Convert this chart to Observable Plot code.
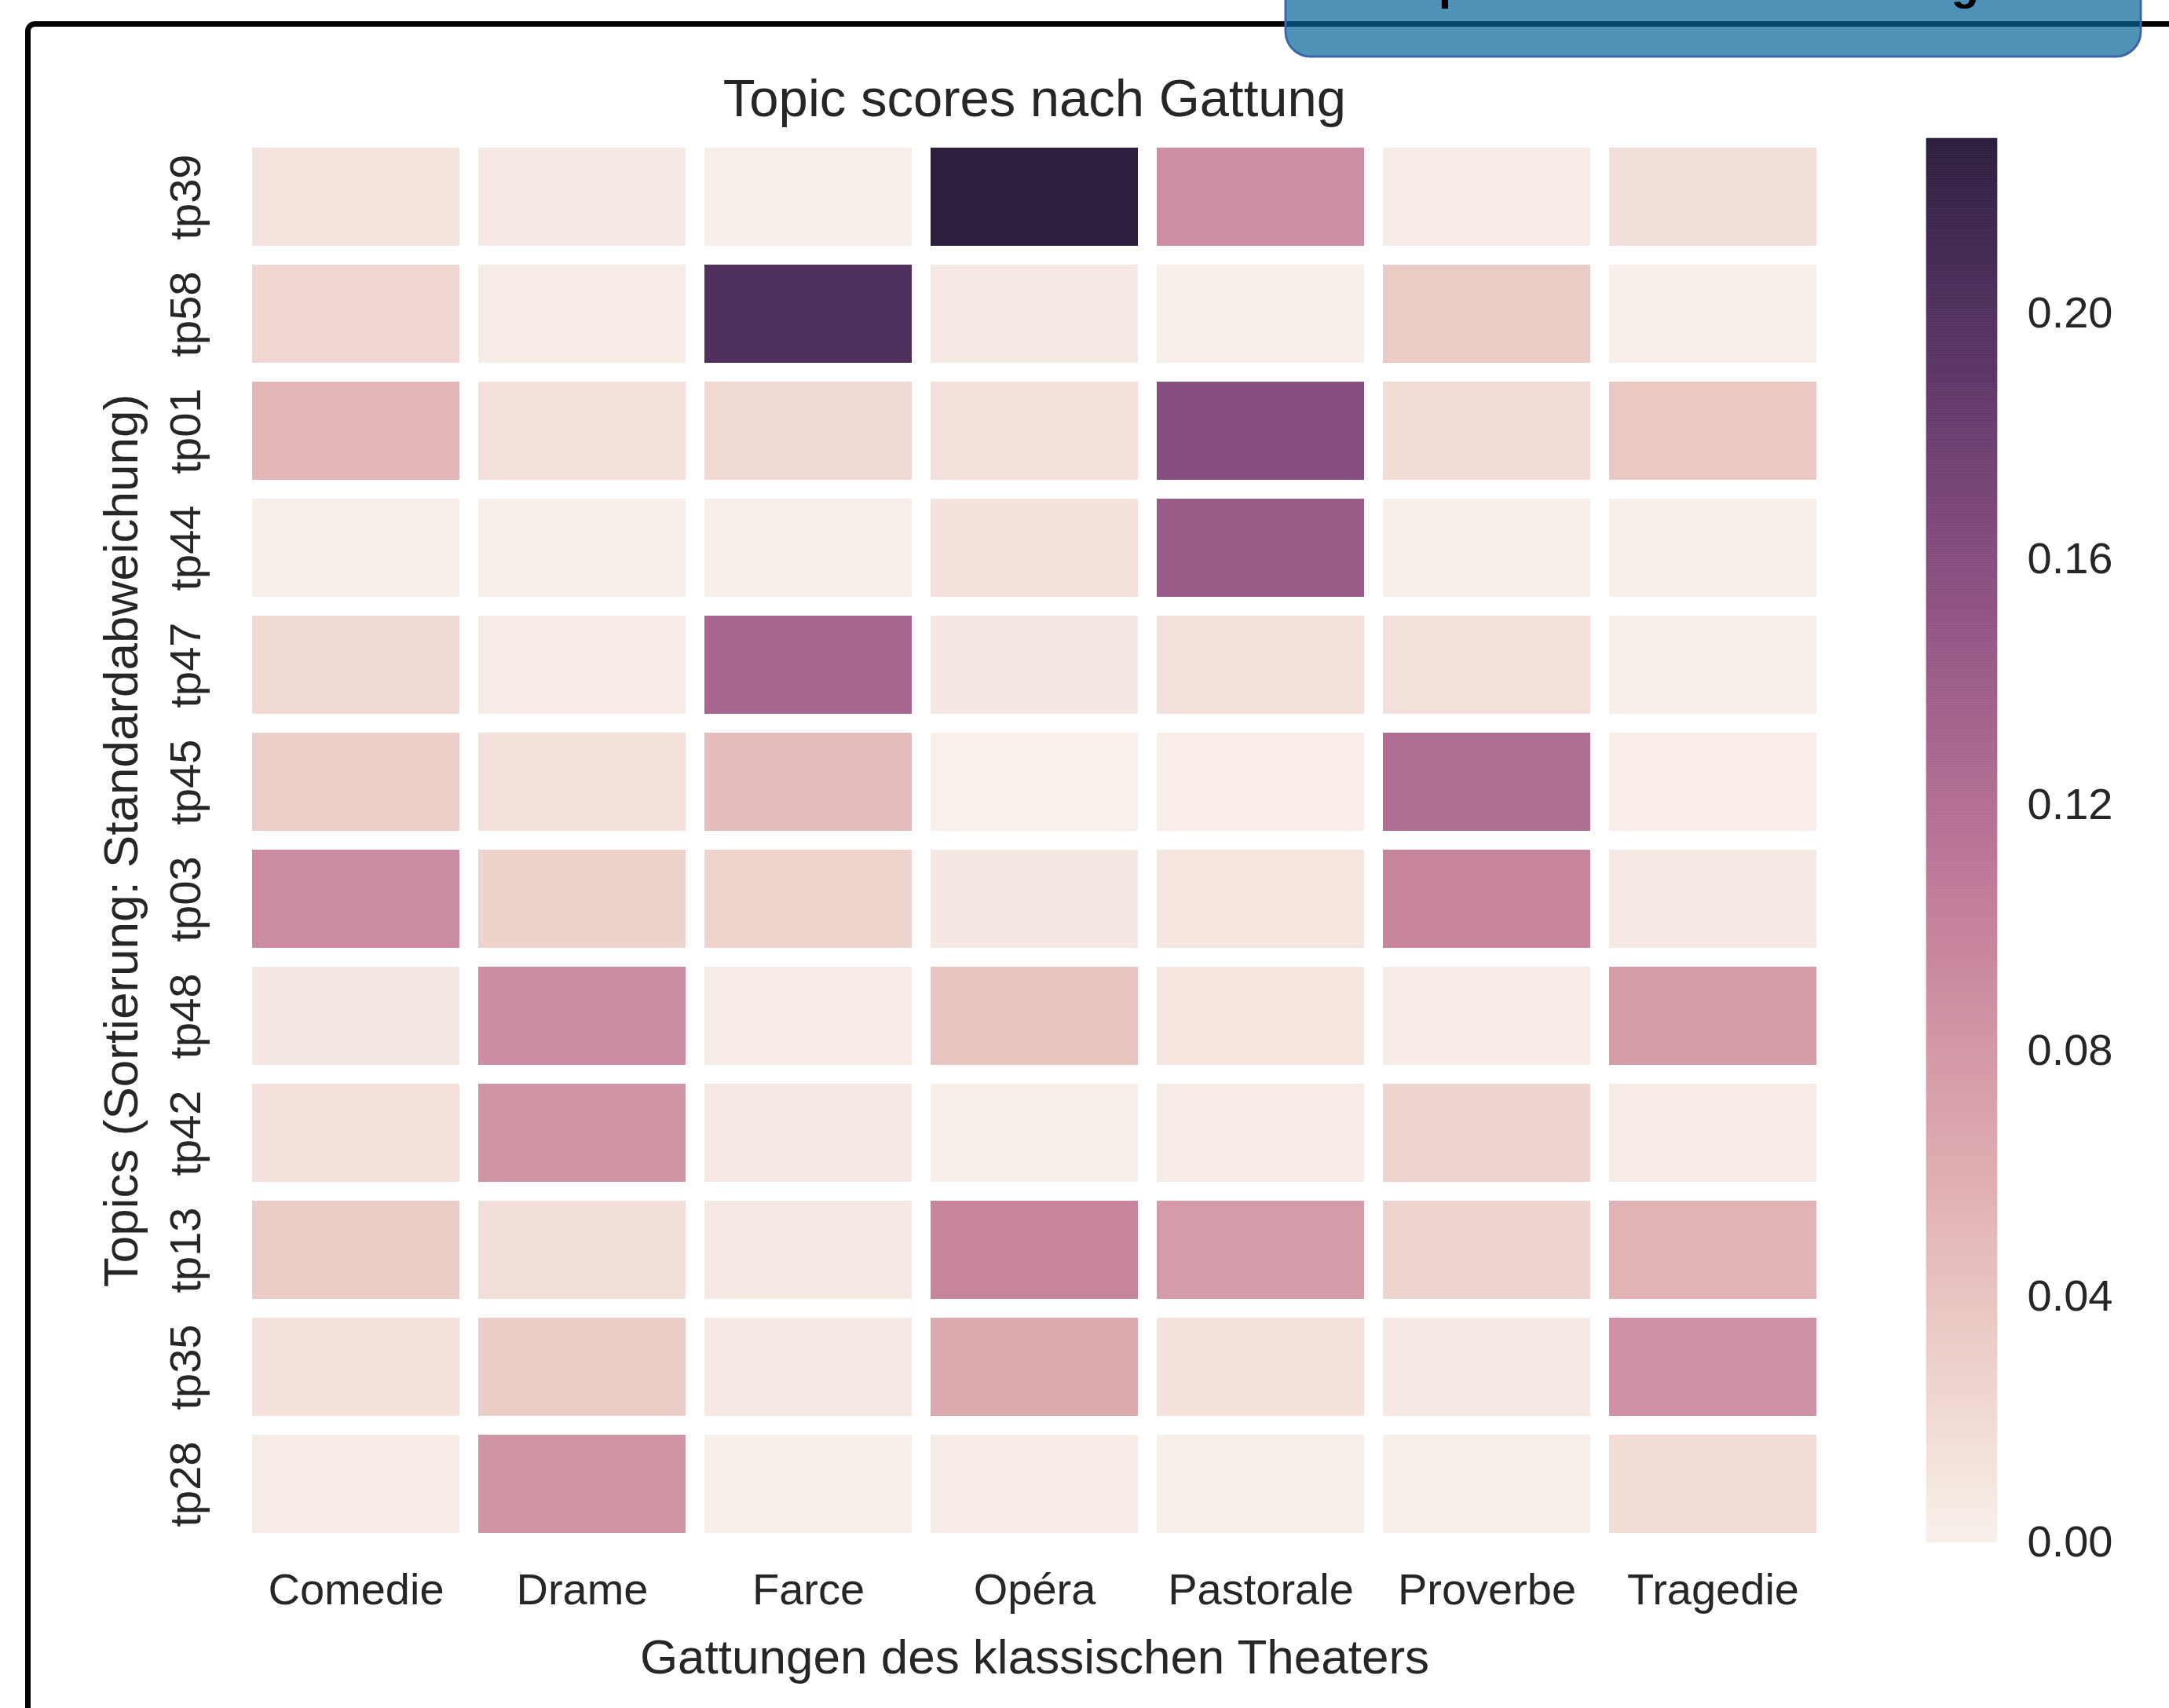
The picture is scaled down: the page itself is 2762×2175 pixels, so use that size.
<!DOCTYPE html>
<html>
<head>
<meta charset="utf-8">
<script src="https://cdn.jsdelivr.net/npm/d3@7"></script>
<script src="https://cdn.jsdelivr.net/npm/@observablehq/plot@0.6"></script>
<style>
html, body { margin: 0; padding: 0; background: #fff; }
#page { position: relative; width: 2762px; height: 2175px; overflow: hidden; background: #fff; font-family: "Liberation Sans", Arial, sans-serif; }
#page > svg, #page > div { position: absolute; left: 0; top: 0; }
#page > div > svg { display: block; }
</style>
</head>
<body>
<div id="page"></div>
<script>
// ---------- data ----------
const genres = ["Comedie", "Drame", "Farce", "Opéra", "Pastorale", "Proverbe", "Tragedie"];
const topics = ["tp39", "tp58", "tp01", "tp44", "tp47", "tp45", "tp03", "tp48", "tp42", "tp13", "tp35", "tp28"];
const scores = [
  [0.0110, 0.0064, 0.0018, 0.2285, 0.0877, 0.0046, 0.0155], // tp39
  [0.0238, 0.0046, 0.2010, 0.0064, 0.0009, 0.0334, 0.0009], // tp58
  [0.0512, 0.0146, 0.0210, 0.0146, 0.1588, 0.0183, 0.0356], // tp01
  [0.0018, 0.0009, 0.0018, 0.0128, 0.1430, 0.0012, 0.0014], // tp44
  [0.0210, 0.0046, 0.1300, 0.0082, 0.0137, 0.0146, 0.0009], // tp47
  [0.0306, 0.0137, 0.0457, 0.0000, 0.0027, 0.1210, 0.0027], // tp45
  [0.0905, 0.0274, 0.0256, 0.0082, 0.0091, 0.0980, 0.0064], // tp03
  [0.0082, 0.0887, 0.0046, 0.0393, 0.0091, 0.0037, 0.0759], // tp48
  [0.0119, 0.0823, 0.0064, 0.0009, 0.0046, 0.0247, 0.0046], // tp42
  [0.0329, 0.0155, 0.0064, 0.0983, 0.0768, 0.0247, 0.0548], // tp13
  [0.0128, 0.0320, 0.0073, 0.0631, 0.0119, 0.0064, 0.0859], // tp35
  [0.0046, 0.0823, 0.0009, 0.0046, 0.0018, 0.0018, 0.0174]  // tp28
];
const colorbarTicks = [0, 0.04, 0.08, 0.12, 0.16, 0.20];
const titleText = "Topic scores nach Gattung";
const xLabel = "Gattungen des klassischen Theaters";
const yLabel = "Topics (Sortierung: Standardabweichung)";
const slideTitle = "Topic scores nach Gattung";

// ---------- table ----------
const cells = [];
topics.forEach((t, i) => genres.forEach((g, j) => cells.push({topic: t, genre: g, value: scores[i][j]})));
const vmax = d3.max(cells, d => d.value);

// seaborn cubehelix_palette(light=.95, dark=.15, as_cmap=True)
function cubehelix(t) {
  const x = 0.95 - 0.8 * t;
  const a = 0.8 * x * (1 - x) / 2;
  const phi = 2 * Math.PI * (0.4 * x);
  const c = Math.cos(phi), s = Math.sin(phi);
  const r = x + a * (-0.14861 * c + 1.78277 * s);
  const g = x + a * (-0.29227 * c - 0.90649 * s);
  const b = x + a * (1.97294 * c);
  const f = v => Math.round(255 * Math.max(0, Math.min(1, v)));
  return `rgb(${f(r)},${f(g)},${f(b)})`;
}

const FONT = "'Liberation Sans', Arial, Helvetica, sans-serif";
const INK = "#262626";
const page = document.getElementById("page");

// ---------- decorations (slide frame and header box) ----------
const decor = document.createElement("div");
decor.innerHTML = `<svg width="2762" height="2175" xmlns="http://www.w3.org/2000/svg">
  <rect x="35.5" y="30.5" width="3200" height="3200" rx="9" fill="none" stroke="#000" stroke-width="7"/>
  <rect x="1637" y="-70" width="1089" height="142" rx="32" fill="#036498" fill-opacity="0.7" stroke="#3d66a6" stroke-width="3"/>
  <text x="1764" y="-1" font-family="${FONT}" font-weight="bold" font-size="59" fill="#000">${slideTitle}</text>
</svg>`;
page.appendChild(decor);

// ---------- main heatmap ----------
const main = Plot.plot({
  width: 2762,
  height: 2175,
  marginLeft: 307,
  marginRight: 435,
  marginTop: 176,
  marginBottom: 211,
  style: {fontFamily: FONT, fontSize: "56px", color: INK, background: "transparent", overflow: "visible"},
  x: {domain: genres, padding: 0},
  y: {domain: topics, padding: 0, axis: null},
  color: {type: "linear", domain: [0, vmax], interpolate: cubehelix},
  marks: [
    Plot.cell(cells, {x: "genre", y: "topic", fill: "value", inset: 12}),
    Plot.axisX({anchor: "bottom", tickSize: 0, tickPadding: 39, fontSize: 56, label: null}),
    Plot.text(topics, {y: d => d, text: d => d, frameAnchor: "left", dx: -70, rotate: -90,
      textAnchor: "middle", lineAnchor: "middle", fontSize: 56, fill: INK}),
    Plot.text([yLabel], {text: d => d, frameAnchor: "left", dx: -152, rotate: -90,
      textAnchor: "middle", lineAnchor: "middle", fontSize: 62, fill: INK}),
    Plot.text([xLabel], {text: d => d, frameAnchor: "bottom", dy: 166,
      textAnchor: "middle", lineAnchor: "bottom", fontSize: 62, fill: INK}),
    Plot.text([titleText], {text: d => d, frameAnchor: "top", dy: -29,
      textAnchor: "middle", lineAnchor: "bottom", fontSize: 67, fill: INK})
  ]
});
page.appendChild(main);

// ---------- colorbar ----------
const N = 600;
const ramp = d3.range(N).map(i => ({v0: vmax * i / N, v1: vmax * (i + 1) / N}));
const cbar = Plot.plot({
  width: 309,
  height: 2175,
  marginLeft: 0,
  marginRight: 219,
  marginTop: 176,
  marginBottom: 211,
  style: {fontFamily: FONT, fontSize: "56px", color: INK, background: "transparent", overflow: "visible"},
  y: {domain: [0, vmax], axis: null},
  color: {type: "linear", domain: [0, vmax], interpolate: cubehelix},
  marks: [
    Plot.rect(ramp, {y1: "v0", y2: "v1", fill: d => (d.v0 + d.v1) / 2, stroke: d => (d.v0 + d.v1) / 2, strokeWidth: 0.6}),
    Plot.axisY({anchor: "right", ticks: colorbarTicks, tickFormat: d3.format(".2f"), tickSize: 0, tickPadding: 38, fontSize: 56, label: null})
  ]
});
cbar.style.left = "2453px";
page.appendChild(cbar);
</script>
</body>
</html>
